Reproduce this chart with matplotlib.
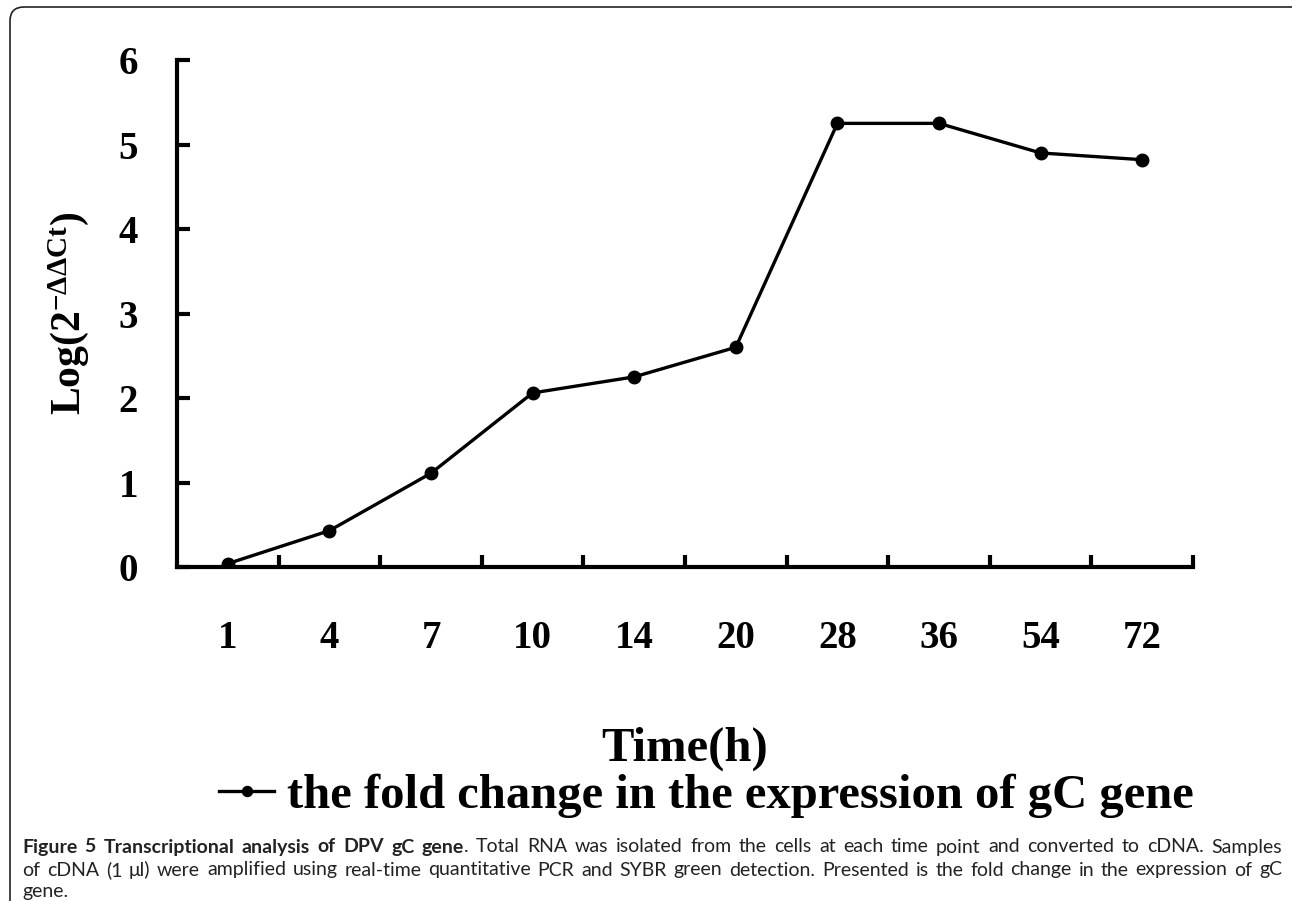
import matplotlib
matplotlib.use("Agg")
import matplotlib.pyplot as plt
from matplotlib.patches import FancyBboxPatch

# data
time_labels = ["1", "4", "7", "10", "14", "20", "28", "36", "54", "72"]
fold_change = [0.04, 0.43, 1.11, 2.06, 2.25, 2.60, 5.25, 5.25, 4.90, 4.82]
y_ticks = [0, 1, 2, 3, 4, 5, 6]

caption_lines = [
    [("Figure 5 Transcriptional analysis of DPV gC gene", True),
     (". Total RNA was isolated from the cells at each time point and converted to cDNA. Samples", False)],
    [("of cDNA (1 μl) were amplified using real-time quantitative PCR and SYBR green detection. Presented is the fold change in the expression of gC", False)],
    [("gene.", False)],
]

plt.rcParams["mathtext.fontset"] = "custom"
plt.rcParams["mathtext.rm"] = "Liberation Serif:bold"
plt.rcParams["mathtext.it"] = "Liberation Serif:bold"
plt.rcParams["mathtext.bf"] = "Liberation Serif:bold"

W, H = 1292, 901
fig = plt.figure(figsize=(W / 100, H / 100), dpi=100)
ax = fig.add_axes([177 / W, 1 - 567 / H, (1193 - 177) / W, (567 - 60) / H])

x = list(range(len(time_labels)))
ax.plot(x, fold_change, color="black", lw=2.4, marker="o", ms=9, mfc="black",
        mec="black", label="the fold change in the expression of gC gene")

ax.set_xlim(-0.5, len(time_labels) - 0.5)
ax.set_ylim(0, 6)
for s in ["top", "right"]:
    ax.spines[s].set_visible(False)
for s in ["left", "bottom"]:
    ax.spines[s].set_linewidth(3)
    ax.spines[s].set_capstyle("projecting")

serif = {"family": "Liberation Serif", "weight": "bold"}

# category boundaries carry the tick marks, labels sit in the middle
ax.set_xticks([i + 0.5 for i in x])
ax.set_xticklabels([])
ax.tick_params(axis="x", which="major", direction="in", length=9, width=3)
ax.set_xticks(x, minor=True)
ax.set_xticklabels(time_labels, minor=True, fontdict=serif, fontsize=28)
ax.tick_params(axis="x", which="minor", length=0, pad=38)

ax.set_yticks(y_ticks)
ax.set_yticklabels([str(v) for v in y_ticks], fontdict=serif, fontsize=28)
ax.tick_params(axis="y", direction="in", length=9, width=3, pad=28)

ax.set_ylabel(r"$\mathrm{Log(2^{-\Delta\Delta Ct})}$", fontsize=30, labelpad=20)
ax.set_xlabel("Time(h)", fontdict=serif, fontsize=35, labelpad=50)

fig.legend(loc="center", bbox_to_anchor=(706 / W, 1 - 796 / H), frameon=False,
           prop={"family": "Liberation Serif", "weight": "bold", "size": 35},
           handlelength=1.15, handletextpad=0.25, markerscale=0.8)

# rounded frame around the figure panel
frame = FancyBboxPatch((10, -20), 1300, H - 7 + 20, boxstyle="round,pad=0,rounding_size=14",
                       transform=None, fill=False, lw=1.2, ec="#222222", clip_on=False)
fig.patches.append(frame)

# justified caption
renderer = fig.canvas.get_renderer()
x0, x1 = 22, 1282
line_y = [847, 870, 892]
cap_size = 14
space_w = fig.text(0, 0, "a a", fontsize=cap_size, family="Lato").get_window_extent(renderer).width \
    - fig.text(0, 0, "aa", fontsize=cap_size, family="Lato").get_window_extent(renderer).width
for t in fig.texts[-2:]:
    t.remove()
for li, (parts, yy) in enumerate(zip(caption_lines, line_y)):
    words = []
    for txt, bold in parts:
        toks = txt.split(" ")
        for k, t in enumerate(toks):
            if t == "":
                continue
            attach = (k == 0 and len(words) > 0 and not txt.startswith(" "))
            words.append([t, bold, attach])
    groups = []
    for t, bold, attach in words:
        obj = fig.text(0, 1 - yy / H, t, fontsize=cap_size, family="Lato",
                       weight="bold" if bold else "normal", va="center", color="#222222")
        w = obj.get_window_extent(renderer).width
        if attach and groups:
            groups[-1].append((obj, w))
        else:
            groups.append([(obj, w)])
    last = li == len(caption_lines) - 1
    total = sum(w for g in groups for _, w in g)
    gap = space_w if last or len(groups) < 2 else (x1 - x0 - total) / (len(groups) - 1)
    cx = x0
    for g in groups:
        for obj, w in g:
            obj.set_x(cx / W)
            cx += w
        cx += gap

fig.savefig("out.png", dpi=100)
